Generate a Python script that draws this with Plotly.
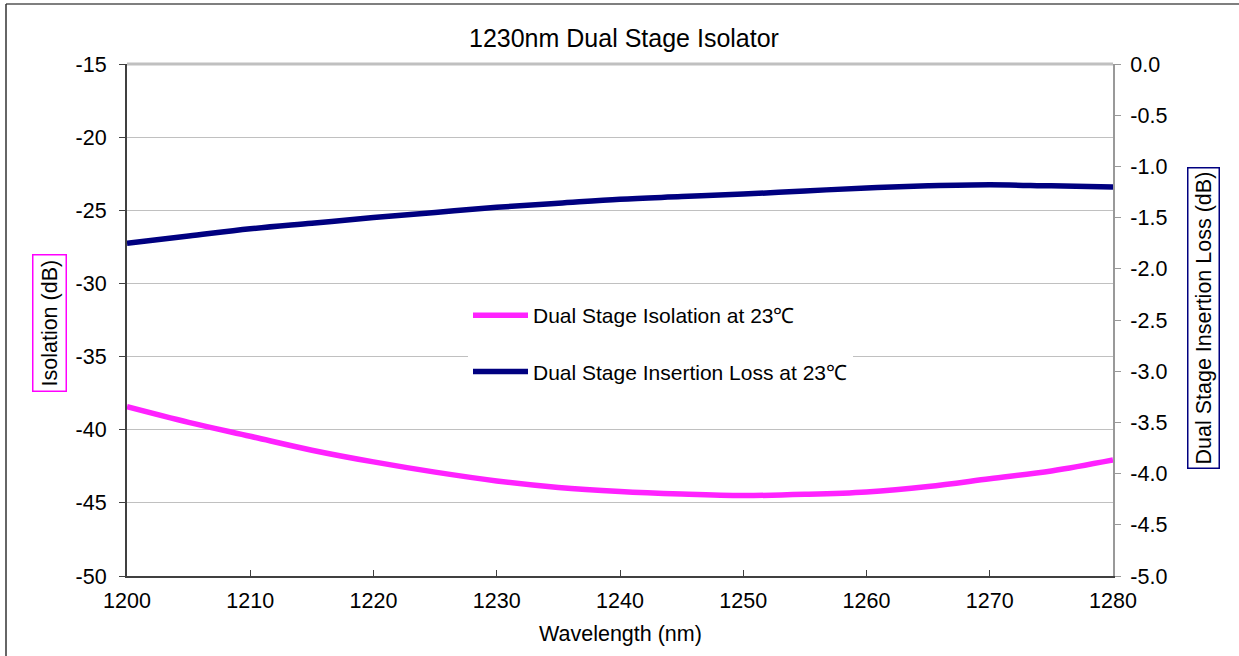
import plotly.graph_objects as go

wavelength = [1200, 1205, 1210, 1215, 1220, 1225, 1230, 1235, 1240, 1245,
              1250, 1255, 1260, 1265, 1270, 1275, 1280]
isolation = [-38.43, -39.5, -40.45, -41.4, -42.2, -42.9, -43.5, -43.95, -44.23,
             -44.4, -44.5, -44.42, -44.25, -43.88, -43.35, -42.82, -42.07]
insertion_loss = [-1.75, -1.68, -1.61, -1.555, -1.50, -1.45, -1.40, -1.36, -1.32,
                  -1.295, -1.27, -1.24, -1.21, -1.19, -1.18, -1.19, -1.20]

x_ticks = [1200, 1210, 1220, 1230, 1240, 1250, 1260, 1270, 1280]
y1_ticks = [-50, -45, -40, -35, -30, -25, -20, -15]
y1_ticktext = ["-50", "-45", "-40", "-35", "-30", "-25", "-20", "-15"]
y2_ticks = [-5.0, -4.5, -4.0, -3.5, -3.0, -2.5, -2.0, -1.5, -1.0, -0.5, 0.0]
y2_ticktext = ["-5.0", "-4.5", "-4.0", "-3.5", "-3.0", "-2.5", "-2.0", "-1.5",
               "-1.0", "-0.5", "0.0"]

name_iso = "Dual Stage Isolation at 23\u2103"
name_il = "Dual Stage Insertion Loss at 23\u2103"
title_text = "1230nm Dual Stage Isolator"
x_title = "Wavelength (nm)"
y1_title = "Isolation (dB)"
y2_title = "Dual Stage Insertion Loss (dB)"

FONT = "Liberation Sans, Arial, sans-serif"
W, H = 1239, 656
L, R, T, B = 127, 1113, 64, 576
PW, PH = R - L, B - T
FS = 21.5

def px(x):
    return (x - L) / PW

def py(y):
    return 1 - (y - T) / PH

fig = go.Figure()
fig.add_trace(go.Scatter(x=wavelength, y=isolation, name=name_iso, mode="lines",
                         line=dict(color="#ff22ff", width=5.5, shape="spline"),
                         legendgroup="a", yaxis="y"))
fig.add_trace(go.Scatter(x=wavelength, y=insertion_loss, name=name_il, mode="lines",
                         line=dict(color="#000080", width=5.5, shape="spline"),
                         legendgroup="b", yaxis="y2"))

fig.update_layout(
    width=W, height=H,
    margin=dict(l=L, r=W - R, t=T, b=H - B, pad=0),
    paper_bgcolor="white", plot_bgcolor="white",
    font=dict(family=FONT, size=FS, color="black"),
    showlegend=True,
    legend=dict(x=px(468), y=py(295), xanchor="left", yanchor="top",
                bgcolor="white", borderwidth=0, tracegroupgap=26,
                font=dict(family=FONT, size=21, color="black"),
                itemwidth=55),
    xaxis=dict(range=[1200, 1280], tickvals=x_ticks, showgrid=False,
               zeroline=False, showline=True, linecolor="#404040", linewidth=2,
               ticks="inside", ticklen=6, tickcolor="#404040", tickwidth=1,
               ticklabelstandoff=4,
               tickfont=dict(family=FONT, size=FS, color="black")),
    yaxis=dict(range=[-50, -15], tickvals=y1_ticks, ticktext=y1_ticktext,
               showgrid=True, gridcolor="#c0c0c0", gridwidth=1, zeroline=False,
               showline=True, linecolor="#404040", linewidth=2,
               ticks="outside", ticklen=6, tickcolor="#404040",
               ticklabelstandoff=8,
               tickfont=dict(family=FONT, size=FS, color="black")),
    yaxis2=dict(range=[-5, 0], tickvals=y2_ticks, ticktext=y2_ticktext,
                overlaying="y", side="right",
                showgrid=False, zeroline=False,
                showline=True, linecolor="#999999", linewidth=2,
                ticks="outside", ticklen=6, tickcolor="#999999",
                ticklabelstandoff=5,
                tickfont=dict(family=FONT, size=FS, color="black")),
    annotations=[
        dict(text=title_text, x=px(624), y=py(38), xref="paper", yref="paper",
             xanchor="center", yanchor="middle", showarrow=False,
             font=dict(family=FONT, size=25, color="black")),
        dict(text=x_title, x=px(620), y=py(634), xref="paper", yref="paper",
             xanchor="center", yanchor="middle", showarrow=False,
             font=dict(family=FONT, size=FS, color="black")),
        dict(text=y1_title, x=px(49), y=py(323), xref="paper", yref="paper",
             xanchor="center", yanchor="middle", showarrow=False, textangle=-90,
             bordercolor="#ff00ff", borderwidth=1.5, borderpad=4, bgcolor="white",
             font=dict(family=FONT, size=FS, color="black")),
        dict(text=y2_title, x=px(1203), y=py(318), xref="paper", yref="paper",
             xanchor="center", yanchor="middle", showarrow=False, textangle=-90,
             bordercolor="#000080", borderwidth=1.5, borderpad=3, bgcolor="white",
             font=dict(family=FONT, size=FS, color="black")),
    ],
    shapes=[
        dict(type="line", xref="paper", yref="paper", x0=0, x1=1, y0=1, y1=1,
             line=dict(color="#c0c0c0", width=3), layer="below"),
        dict(type="line", xref="paper", yref="paper",
             x0=px(6), x1=px(1250), y0=py(4), y1=py(4),
             line=dict(color="#555555", width=1.5), layer="below"),
        dict(type="line", xref="paper", yref="paper",
             x0=px(6), x1=px(6), y0=py(4), y1=py(670),
             line=dict(color="#333333", width=1.5), layer="below"),
    ],
)

fig.write_html("out.html",
               config={"displayModeBar": False},
               post_script="document.body.style.margin='0';"
                           "document.body.style.overflow='hidden';")
